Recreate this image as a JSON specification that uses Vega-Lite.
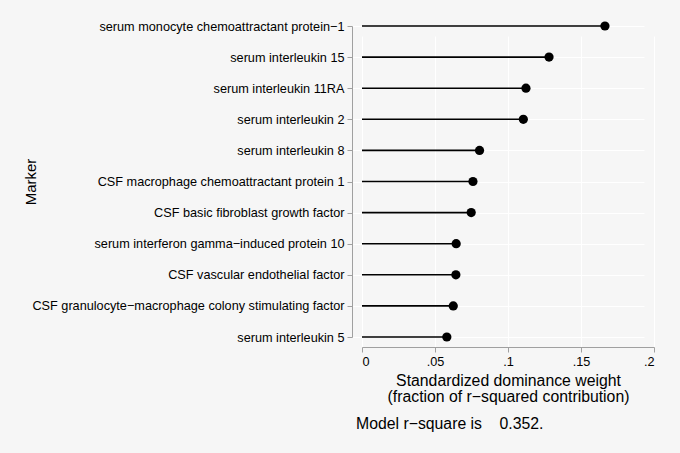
{
  "$schema": "https://vega.github.io/schema/vega-lite/v6.json",
  "autosize": {"type": "none"},
  "padding": {"left": 362, "top": 26, "right": 26, "bottom": 116},
  "width": 292,
  "height": 311,
  "background": "#f6f6f6",
  "config": {
    "view": {"stroke": null},
    "font": "Liberation Sans",
    "axis": {
      "labelFont": "Liberation Sans",
      "titleFont": "Liberation Sans",
      "labelColor": "#000000",
      "titleColor": "#000000",
      "titleFontWeight": "normal",
      "domainColor": "#a0a0a0",
      "tickColor": "#a0a0a0",
      "gridColor": "#ffffff",
      "gridWidth": 1,
      "tickSize": 5,
      "offset": 10
    }
  },
  "title": {
    "text": "Model r−square is\u00a0\u00a0\u00a0 0.352.",
    "orient": "bottom",
    "anchor": "start",
    "frame": "group",
    "font": "Liberation Sans",
    "fontSize": 15.8,
    "fontWeight": "normal",
    "color": "#000000",
    "offset": 13,
    "dx": -6
  },
  "data": {
    "values": [
      {"marker": "serum monocyte chemoattractant protein−1", "weight": 0.1664},
      {"marker": "serum interleukin 15", "weight": 0.1281},
      {"marker": "serum interleukin 11RA", "weight": 0.1123},
      {"marker": "serum interleukin 2", "weight": 0.1105},
      {"marker": "serum interleukin 8", "weight": 0.0805},
      {"marker": "CSF macrophage chemoattractant protein 1", "weight": 0.0760},
      {"marker": "CSF basic fibroblast growth factor", "weight": 0.0748},
      {"marker": "serum interferon gamma−induced protein 10", "weight": 0.0645},
      {"marker": "CSF vascular endothelial factor", "weight": 0.0643},
      {"marker": "CSF granulocyte−macrophage colony stimulating factor", "weight": 0.0625},
      {"marker": "serum interleukin 5", "weight": 0.0581}
    ]
  },
  "encoding": {
    "y": {
      "field": "marker",
      "type": "nominal",
      "sort": null,
      "scale": {"type": "point", "padding": 0},
      "axis": {
        "title": "Marker",
        "titleFontSize": 15,
        "titleX": -314,
        "labelFontSize": 12.7,
        "labelPadding": 3,
        "labelLimit": 0,
        "grid": true
      }
    },
    "x": {
      "field": "weight",
      "type": "quantitative",
      "scale": {"domain": [0, 0.2], "nice": false},
      "axis": {
        "values": [0, 0.05, 0.1, 0.15, 0.2],
        "labelExpr": "datum.value == 0 ? '0' : substring(toString(datum.value), 1)",
        "labelFontSize": 12.7,
        "labelPadding": 3,
        "title": ["Standardized dominance weight", "(fraction of r−squared contribution)"],
        "titleFontSize": 15.8,
        "titlePadding": 6,
        "titleLineHeight": 15.5,
        "grid": true
      }
    }
  },
  "layer": [
    {
      "mark": {"type": "rule", "color": "#000000", "strokeWidth": 1.6},
      "encoding": {
        "x2": {"datum": 0}
      }
    },
    {
      "mark": {"type": "point", "filled": true, "shape": "circle", "size": 85, "color": "#000000", "opacity": 1},
      "encoding": {}
    }
  ]
}
